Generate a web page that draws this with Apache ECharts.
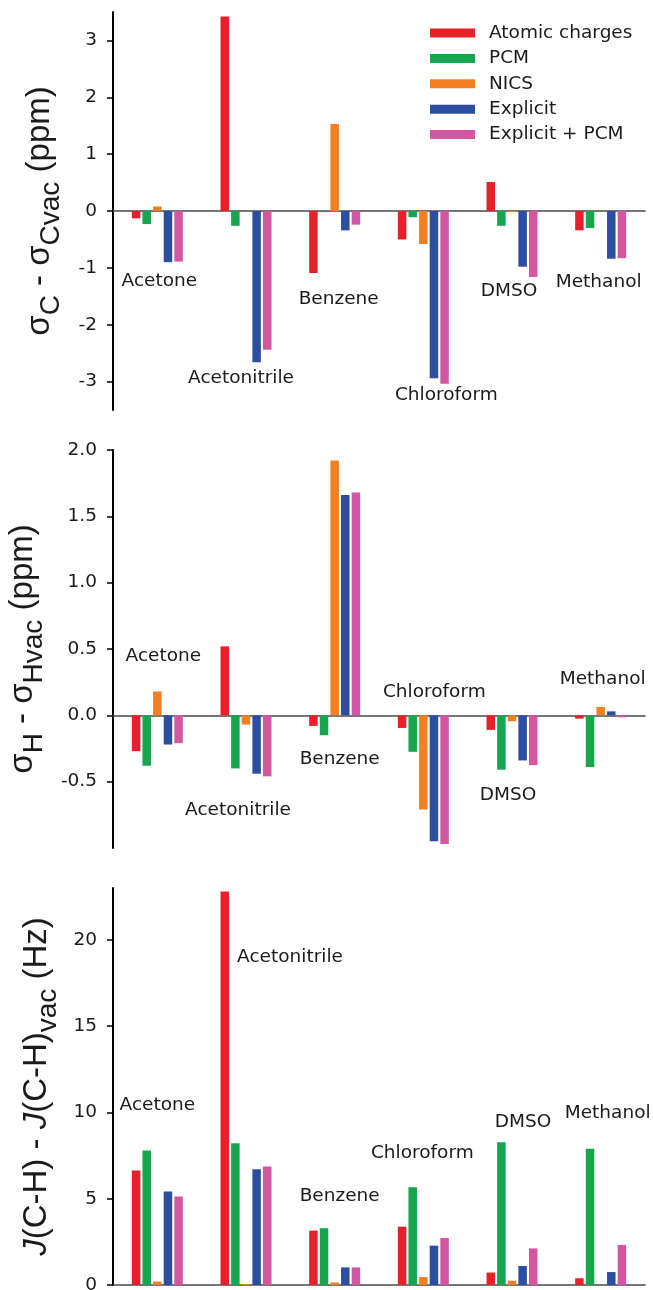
<!DOCTYPE html>
<html><head><meta charset="utf-8">
<script src="https://cdn.jsdelivr.net/npm/echarts@6/dist/echarts.min.js"></script>
<style>html,body{margin:0;padding:0;background:#fff}#c{width:653px;height:1290px}</style>
</head><body><div id="c"></div>
<script>
// ---------- data ----------
const categories = ['Acetone', 'Acetonitrile', 'Benzene', 'Chloroform', 'DMSO', 'Methanol'];
const methods = ['Atomic charges', 'PCM', 'NICS', 'Explicit', 'Explicit + PCM'];

// Panel 1: sigma_C - sigma_Cvac (ppm)
const c_atomic      = [-0.13, 3.42, -1.09, -0.50, 0.51, -0.34];
const c_pcm         = [-0.23, -0.26, -0.02, -0.11, -0.26, -0.30];
const c_nics        = [0.08, 0.00, 1.53, -0.58, -0.02, 0.00];
const c_explicit    = [-0.90, -2.66, -0.34, -2.94, -0.98, -0.84];
const c_explicitPcm = [-0.89, -2.44, -0.24, -3.04, -1.16, -0.83];

// Panel 2: sigma_H - sigma_Hvac (ppm)
const h_atomic      = [-0.27, 0.52, -0.08, -0.095, -0.11, -0.025];
const h_pcm         = [-0.38, -0.40, -0.15, -0.275, -0.41, -0.39];
const h_nics        = [0.18, -0.07, 1.92, -0.71, -0.045, 0.063];
const h_explicit    = [-0.22, -0.44, 1.66, -0.95, -0.34, 0.03];
const h_explicitPcm = [-0.21, -0.46, 1.68, -0.97, -0.375, -0.015];

// Panel 3: J(C-H) - J(C-H)vac (Hz)
const j_atomic      = [6.63, 22.8, 3.15, 3.38, 0.72, 0.39];
const j_pcm         = [7.79, 8.21, 3.29, 5.66, 8.27, 7.90];
const j_nics        = [0.20, 0.06, 0.15, 0.46, 0.25, 0.00];
const j_explicit    = [5.41, 6.71, 1.02, 2.28, 1.10, 0.75];
const j_explicitPcm = [5.12, 6.86, 1.02, 2.72, 2.12, 2.32];

// tick labels
const ticksC = [-3, -2, -1, 0, 1, 2, 3];
const ticksH = [-0.5, 0.0, 0.5, 1.0, 1.5, 2.0];
const ticksJ = [0, 5, 10, 15, 20];

// ---------- annotation layout (category label anchors, data units) ----------
const noteY1 = [-1.23, -2.94, -1.55, -3.24, -1.41, -1.25];
const noteY2 = [0.445, -0.716, -0.334, 0.173, -0.603, 0.274];
const noteY3 = [10.43, 18.99, 5.12, 7.66, 9.46, 9.95];
const noteDx1 = [2, -5, 4, 23, -3, -2];
const noteDx2 = [6, -8, 5, 11, -4, 2];
const noteDx3 = [0, 44, 5, -1, 11, 7];

// ---------- styles ----------
const colors = ['#E8202A', '#17A550', '#F28023', '#2C4DA0', '#D456A3'];
const FONT = 'DejaVu Sans';
const TFONT = 'Liberation Sans';
const TXT = '#1a1a1a';

const panels = [
  { vals: [c_atomic, c_pcm, c_nics, c_explicit, c_explicitPcm], ticks: ticksC, min: -3.5, max: 3.5, dec: 0,
    top: 12, height: 398, noteY: noteY1, noteDx: noteDx1, nameGap: 48,
    name: '{m|σ}{s|C}{m| - σ}{s|Cvac}{m| (ppm)}' },
  { vals: [h_atomic, h_pcm, h_nics, h_explicit, h_explicitPcm], ticks: ticksH, min: -1, max: 2, dec: 1,
    top: 450, height: 398, noteY: noteY2, noteDx: noteDx2, nameGap: 65,
    name: '{m|σ}{s|H}{m| - σ}{s|Hvac}{m| (ppm)}' },
  { vals: [j_atomic, j_pcm, j_nics, j_explicit, j_explicitPcm], ticks: ticksJ, min: 0, max: 23, dec: 0,
    top: 888, height: 397, noteY: noteY3, noteDx: noteDx3, nameGap: 49,
    name: '{i|J}{m|(C-H) - }{i|J}{m|(C-H)}{s|vac}{m| (Hz)}' }
];

const grids = [], xAxes = [], yAxes = [], series = [];
panels.forEach((p, gi) => {
  grids.push({ left: 113, right: 8, top: p.top, height: p.height, outerBoundsMode: 'none' });
  xAxes.push({
    type: 'category', gridIndex: gi, data: categories,
    axisLabel: { show: false }, axisTick: { show: false },
    axisLine: { show: true, onZero: true, lineStyle: { color: '#4a4a4a', width: 1.5 } },
    splitLine: { show: false }
  });
  yAxes.push({
    type: 'value', gridIndex: gi, min: p.min, max: p.max,
    splitLine: { show: false },
    axisLine: { show: true, lineStyle: { color: '#000', width: 2 } },
    axisTick: { show: true, length: 6, customValues: p.ticks, lineStyle: { color: '#000', width: 1.5 } },
    axisLabel: { show: true, customValues: p.ticks, margin: 16, fontSize: 18.5, fontFamily: FONT, color: TXT,
      formatter: v => Number(v).toFixed(p.dec) },
    name: p.name, nameLocation: 'middle', nameRotate: 90, nameGap: p.nameGap,
    nameTextStyle: {
      rich: {
        m: { fontSize: 33, fontFamily: TFONT, color: TXT, lineHeight: 35 },
        i: { fontSize: 33, fontFamily: TFONT, fontStyle: 'italic', color: TXT, lineHeight: 35 },
        s: { fontSize: 28, fontFamily: TFONT, color: TXT, padding: [23, 0, 0, 0] }
      }
    }
  });
  p.vals.forEach((arr, si) => {
    series.push({
      type: 'bar', name: methods[si], xAxisIndex: gi, yAxisIndex: gi,
      data: arr, barWidth: 8.5, barGap: '25%',
      itemStyle: { color: colors[si] }
    });
  });
  series.push({
    type: 'scatter', xAxisIndex: gi, yAxisIndex: gi, silent: true, symbolSize: 0, z: 10,
    itemStyle: { opacity: 1 },
    emphasis: { disabled: true },
    data: categories.map((c, k) => ({ name: c, value: [k, p.noteY[k]], label: { offset: [p.noteDx[k], 0] } })),
    label: { show: true, position: 'inside', formatter: '{b}', fontSize: 18.5, fontFamily: FONT,
      color: TXT, opacity: 1, textBorderWidth: 0 }
  });
});

const chart = echarts.init(document.getElementById('c'), null, { renderer: 'canvas' });
chart.setOption({
  animation: false,
  backgroundColor: '#fff',
  grid: grids, xAxis: xAxes, yAxis: yAxes, series: series,
  legend: {
    data: methods, orient: 'vertical', left: 430, top: 23, padding: 0,
    icon: 'rect', itemWidth: 45, itemHeight: 9, itemGap: 5.4,
    textStyle: { fontSize: 18.5, fontFamily: FONT, color: TXT, lineHeight: 20, padding: [0, 0, 0, 9] }
  }
});
</script></body></html>
